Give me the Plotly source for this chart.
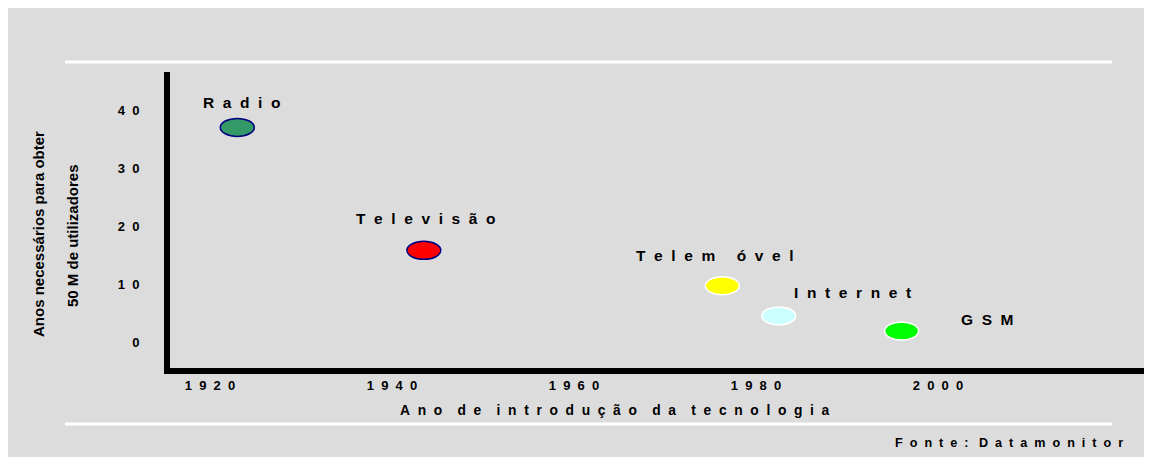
import plotly.graph_objects as go

# ---- data ----
technologies = ["Radio", "Televisão", "Telemóvel", "Internet", "GSM"]
years = [1923, 1943.5, 1976.3, 1982.5, 1996.0]
years_needed = [37, 15.8, 9.7, 4.5, 1.9]
fill_colors = ["#339966", "#ff0000", "#ffff00", "#ccffff", "#00ff00"]
edge_colors = ["#000080", "#000080", "#ffffff", "#ffffff", "#ffffff"]
label_shift_x = [-36, -70, -88, 13, 57]
label_shift_y = [25, 32, 30, 23, 11]
x_ticks = [1920, 1940, 1960, 1980, 2000]
y_ticks = [0, 10, 20, 30, 40]

NB = "\u00a0"


def spaced(text, gap=2, word_gap=4):
    words = text.split(" ")
    return (NB * word_gap).join((NB * gap).join(list(w)) for w in words)


W, H = 1152, 457
OFF = 8  # page body offset
ML, MR, MT, MB = 162, 0, 64, 97
PW, PH = W - ML - MR, H - MT - MB


def px(S):
    return (S - OFF - ML) / PW


def py(S):
    return (H - MB - (S - OFF)) / PH


fig = go.Figure()
fig.add_trace(go.Scatter(x=years, y=years_needed, mode="markers",
                         marker=dict(size=1, opacity=0), text=technologies,
                         hoverinfo="text+x+y", showlegend=False))

shapes = []
for yy in (62, 424):
    shapes.append(dict(type="line", xref="paper", yref="paper", x0=px(65), x1=px(1112),
                       y0=py(yy), y1=py(yy), line=dict(color="white", width=3), layer="below"))
for xv, yv, fc, ec in zip(years, years_needed, fill_colors, edge_colors):
    shapes.append(dict(type="circle", xref="x", yref="y", xsizemode="pixel", ysizemode="pixel",
                       xanchor=xv, yanchor=yv, x0=-17, x1=17, y0=-9, y1=9,
                       fillcolor=fc, line=dict(color=ec, width=1.5), layer="above"))

annotations = []
for name, xv, yv, sx, sy in zip(technologies, years, years_needed, label_shift_x, label_shift_y):
    t = "Telem óvel" if name == "Telemóvel" else name
    annotations.append(dict(x=xv, y=yv, xref="x", yref="y", text=spaced(t, 2, 5),
                            showarrow=False, xanchor="left", yanchor="middle",
                            xshift=sx, yshift=sy,
                            font=dict(family="Liberation Sans", size=15.5, color="black", weight="bold")))
annotations.append(dict(xref="paper", yref="paper", x=px(38), y=py(234), text="Anos necessários para obter",
                        textangle=-90, showarrow=False, xanchor="center", yanchor="middle",
                        font=dict(family="Liberation Sans", size=15, color="black", weight="bold")))
annotations.append(dict(xref="paper", yref="paper", x=px(72), y=py(236), text="50 M de utilizadores",
                        textangle=-90, showarrow=False, xanchor="center", yanchor="middle",
                        font=dict(family="Liberation Sans", size=15, color="black", weight="bold")))
annotations.append(dict(xref="paper", yref="paper", x=px(615), y=py(410),
                        text=spaced("Ano de introdução da tecnologia", 2, 4),
                        showarrow=False, xanchor="center", yanchor="middle",
                        font=dict(family="Liberation Sans", size=13.8, color="black", weight="bold")))
annotations.append(dict(xref="paper", yref="paper", x=px(1125), y=py(443),
                        text=spaced("Fonte: Datamonitor", 2, 3),
                        showarrow=False, xanchor="right", yanchor="middle",
                        font=dict(family="Liberation Sans", size=12.6, color="black", weight="bold")))

# scales: 1940 at x=392 px, 9.1 px/yr; 0 at y=342 px, 5.8 px/unit
plot_left_s = ML + OFF
plot_bottom_s = H - MB + OFF
x0 = 1940 - (392 - plot_left_s) / 9.1
x1 = x0 + PW / 9.1
y0 = -(plot_bottom_s - 342) / 5.8
y1 = y0 + PH / 5.8

tickfont = dict(family="Liberation Sans", size=13, color="black", weight="bold")
fig.update_layout(
    width=W, height=H,
    margin=dict(l=ML, r=MR, t=MT, b=MB),
    paper_bgcolor="#dcdcdc", plot_bgcolor="#dcdcdc",
    shapes=shapes, annotations=annotations,
    showlegend=False,
    xaxis=dict(range=[x0, x1], tickvals=x_ticks, ticktext=[spaced(str(v)) for v in x_ticks],
               showgrid=False, zeroline=False, showline=True, linecolor="black", linewidth=6,
               ticks="", tickfont=tickfont, fixedrange=True),
    yaxis=dict(range=[y0, y1], tickvals=y_ticks, ticktext=[spaced(str(v)) for v in y_ticks],
               showgrid=False, zeroline=False, showline=True, linecolor="black", linewidth=6,
               ticks="", tickfont=tickfont, ticklabelstandoff=22, fixedrange=True),
)

fig.write_html("out.html",
               post_script="document.documentElement.style.overflow='hidden';document.body.style.overflow='hidden';")
